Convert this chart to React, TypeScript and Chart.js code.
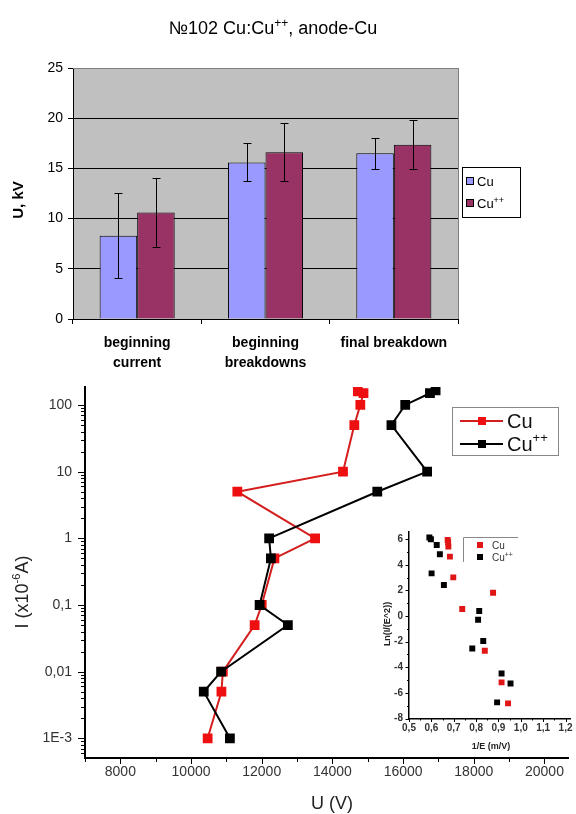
import React, { useEffect, useRef } from "react";
import { Chart, registerables } from "chart.js";

Chart.register(...registerables);

const FONT = '"Liberation Sans", Arial, sans-serif';

// ---------- Top bar chart data ----------
const barCategories = [["beginning", "current"], ["beginning", "breakdowns"], "final breakdown"];
const cuMeans = [8.3, 15.6, 16.5];
const cuErrors = [4.25, 1.9, 1.55];
const cuppMeans = [10.6, 16.6, 17.35];
const cuppErrors = [3.4, 2.9, 2.45];
const barYTicks = [0, 5, 10, 15, 20, 25];

// ---------- Bottom line chart data ----------
const cuVoltage = [10470, 10860, 10900, 11800, 12000, 12360, 13510, 11310, 14300, 14620, 14790, 14880, 14720];
const cuCurrent = [0.001, 0.005, 0.01, 0.05, 0.1, 0.5, 1, 5, 10, 50, 100, 150, 160];
const cuppVoltage = [11100, 10360, 10850, 12740, 11940, 12260, 12210, 15270, 16680, 15670, 16060, 16760, 16920];
const cuppCurrent = [0.001, 0.005, 0.01, 0.05, 0.1, 0.5, 1, 5, 10, 50, 100, 150, 165];
const voltageTicks = [8000, 10000, 12000, 14000, 16000, 18000, 20000];
const currentTicks = [0.001, 0.01, 0.1, 1, 10, 100];
const currentTickLabels = ["1E-3", "0,01", "0,1", "1", "10", "100"];

// ---------- Inset scatter data ----------
const cuInvE = [0.673, 0.675, 0.676, 0.683, 0.698, 0.876, 0.738, 0.839, 0.914, 0.943];
const cuLn = [5.94, 5.76, 5.42, 4.64, 3.02, 1.82, 0.55, -2.71, -5.18, -6.82];
const cuppInvE = [0.591, 0.598, 0.624, 0.638, 0.601, 0.656, 0.814, 0.809, 0.832, 0.783, 0.914, 0.954, 0.894];
const cuppLn = [6.13, 6.0, 5.55, 4.82, 3.33, 2.42, 0.39, -0.29, -1.95, -2.53, -4.48, -5.26, -6.74];
const invETicks = [0.5, 0.6, 0.7, 0.8, 0.9, 1.0, 1.1, 1.2];
const lnTicks = [-8, -6, -4, -2, 0, 2, 4, 6];

type Part = { t: string; size: number; dy?: number; weight?: string };

function drawRich(ctx: CanvasRenderingContext2D, parts: Part[], x: number, y: number, align: "left" | "center", color: string) {
  ctx.save();
  ctx.fillStyle = color;
  ctx.textBaseline = "alphabetic";
  ctx.textAlign = "left";
  const widths = parts.map((p) => {
    ctx.font = `${p.weight || "normal"} ${p.size}px ${FONT}`;
    return ctx.measureText(p.t).width;
  });
  const total = widths.reduce((a, b) => a + b, 0);
  let cx = align === "center" ? x - total / 2 : x;
  parts.forEach((p, i) => {
    ctx.font = `${p.weight || "normal"} ${p.size}px ${FONT}`;
    ctx.fillText(p.t, cx, y + (p.dy || 0));
    cx += widths[i];
  });
  ctx.restore();
}

function line(ctx: CanvasRenderingContext2D, x1: number, y1: number, x2: number, y2: number) {
  ctx.beginPath();
  ctx.moveTo(x1, y1);
  ctx.lineTo(x2, y2);
  ctx.stroke();
}

function noPad(s: any) {
  s.paddingTop = 0;
  s.paddingBottom = 0;
  s.paddingLeft = 0;
  s.paddingRight = 0;
}

const barPlugin = {
  id: "barDecor",
  beforeDraw(chart: any) {
    const { ctx, chartArea: a } = chart;
    ctx.save();
    ctx.fillStyle = "#C0C0C0";
    ctx.fillRect(a.left, a.top, a.right - a.left, a.bottom - a.top);
    ctx.restore();
  },
  afterDraw(chart: any) {
    const { ctx, chartArea: a } = chart;
    const yS = chart.scales.y;
    const errs = [cuErrors, cuppErrors];
    const means = [cuMeans, cuppMeans];
    ctx.save();
    ctx.strokeStyle = "#000";
    ctx.lineWidth = 1;
    [0, 1].forEach((di) => {
      const meta = chart.getDatasetMeta(di);
      meta.data.forEach((bar: any, j: number) => {
        const x = Math.round(bar.x) + 0.5;
        const yt = Math.round(yS.getPixelForValue(means[di][j] + errs[di][j])) + 0.5;
        const yb = Math.round(yS.getPixelForValue(means[di][j] - errs[di][j])) + 0.5;
        line(ctx, x, yt, x, yb);
        line(ctx, x - 4, yt, x + 4, yt);
        line(ctx, x - 4, yb, x + 4, yb);
      });
    });
    ctx.strokeStyle = "#808080";
    line(ctx, a.right + 0.5, a.top, a.right + 0.5, a.bottom);
    line(ctx, a.left, a.top + 0.5, a.right, a.top + 0.5);
    ctx.restore();

    drawRich(ctx, [
      { t: "№102 Cu:Cu", size: 18 },
      { t: "++", size: 12, dy: -7 },
      { t: ", anode-Cu", size: 18 },
    ], 273, 34, "center", "#000");

    ctx.save();
    ctx.translate(19, 200);
    ctx.rotate(-Math.PI / 2);
    ctx.font = `bold 15px ${FONT}`;
    ctx.fillStyle = "#000";
    ctx.textAlign = "center";
    ctx.textBaseline = "middle";
    ctx.fillText("U, kV", 0, 0);
    ctx.restore();

    ctx.save();
    ctx.fillStyle = "#fff";
    ctx.fillRect(462, 167, 58, 50);
    ctx.strokeStyle = "#000";
    ctx.lineWidth = 1;
    ctx.strokeRect(462.5, 167.5, 58, 50);
    const rows = [
      { c: "#9999FF", y: 181, parts: [{ t: "Cu", size: 13 }] },
      { c: "#993366", y: 203, parts: [{ t: "Cu", size: 13 }, { t: "++", size: 9, dy: -5 }] },
    ];
    rows.forEach((r) => {
      ctx.fillStyle = r.c;
      ctx.fillRect(466, r.y - 4, 8, 8);
      ctx.strokeStyle = "#000";
      ctx.strokeRect(466.5, r.y - 3.5, 7, 7);
      drawRich(ctx, r.parts as Part[], 477, r.y + 5, "left", "#000");
    });
    ctx.restore();
  },
};

const mainPlugin = {
  id: "mainDecor",
  afterDraw(chart: any) {
    const { ctx, chartArea: a } = chart;
    const x = chart.scales.x;
    const y = chart.scales.y;
    ctx.save();
    ctx.strokeStyle = "#000";
    ctx.lineWidth = 1;
    for (let d = -4; d <= 2; d++) {
      for (let m = 1; m <= 9; m++) {
        const v = m * Math.pow(10, d);
        if (v < y.min || v > y.max) continue;
        const py = Math.round(y.getPixelForValue(v)) + 0.5;
        const len = m === 1 ? 7 : 4;
        line(ctx, a.left - len, py, a.left, py);
      }
    }
    for (let v = 7000; v <= x.max; v += 1000) {
      const px = Math.round(x.getPixelForValue(v)) + 0.5;
      const len = v % 2000 === 0 ? 6 : 4;
      line(ctx, px, a.bottom, px, a.bottom + len);
    }
    ctx.restore();

    ctx.save();
    ctx.translate(22, 214);
    ctx.rotate(-Math.PI / 2);
    drawRich(ctx, [
      { t: "I (x10", size: 18 },
      { t: "-6", size: 11, dy: -8 },
      { t: "A)", size: 18 },
    ], 0, 6, "center", "#222");
    ctx.restore();
    drawRich(ctx, [{ t: "U (V)", size: 18 }], 332, 431, "center", "#222");

    ctx.save();
    ctx.strokeStyle = "#888";
    ctx.lineWidth = 1;
    ctx.strokeRect(452.5, 29.5, 106, 48);
    const rows = [
      { c: "#D41E1E", p: "#EE1010", y: 43, parts: [{ t: "Cu", size: 20 }] },
      { c: "#000", p: "#000", y: 66, parts: [{ t: "Cu", size: 20 }, { t: "++", size: 13, dy: -9 }] },
    ];
    rows.forEach((r) => {
      ctx.strokeStyle = r.c;
      ctx.lineWidth = 2;
      line(ctx, 460, r.y, 503, r.y);
      ctx.fillStyle = r.p;
      ctx.fillRect(478, r.y - 4, 8, 8);
      drawRich(ctx, r.parts as Part[], 507, r.y + 7, "left", "#111");
    });
    ctx.restore();
  },
};

const insetPlugin = {
  id: "insetDecor",
  afterDraw(chart: any) {
    const { ctx, chartArea: a } = chart;
    const x = chart.scales.x;
    const y = chart.scales.y;
    ctx.save();
    ctx.strokeStyle = "#000";
    ctx.lineWidth = 1;
    for (let v = -8; v <= 6; v += 1) {
      const py = Math.round(y.getPixelForValue(v)) + 0.5;
      const len = v % 2 === 0 ? 3.5 : 2;
      line(ctx, a.left - len, py, a.left, py);
    }
    for (let k = 10; k <= 24; k++) {
      const v = k * 0.05;
      if (v > x.max + 1e-9) continue;
      const px = Math.round(x.getPixelForValue(v)) + 0.5;
      const len = k % 2 === 0 ? 3.5 : 2;
      line(ctx, px, a.bottom, px, a.bottom + len);
    }
    ctx.restore();

    ctx.save();
    ctx.translate(28, 102);
    ctx.rotate(-Math.PI / 2);
    ctx.font = `bold 9px ${FONT}`;
    ctx.fillStyle = "#222";
    ctx.textAlign = "center";
    ctx.textBaseline = "middle";
    ctx.fillText("Ln(I/(E^2))", 0, 0);
    ctx.restore();
    ctx.save();
    ctx.font = `bold 9px ${FONT}`;
    ctx.fillStyle = "#222";
    ctx.textAlign = "center";
    ctx.textBaseline = "middle";
    ctx.fillText("1/E (m/V)", 131, 225);
    ctx.restore();

    ctx.save();
    ctx.strokeStyle = "#888";
    ctx.lineWidth = 1;
    line(ctx, 103.5, 15.5, 158, 15.5);
    line(ctx, 103.5, 15.5, 103.5, 40);
    ctx.fillStyle = "#E01515";
    ctx.fillRect(117, 20, 6, 6);
    ctx.fillStyle = "#000";
    ctx.fillRect(117, 32, 6, 6);
    drawRich(ctx, [{ t: "Cu", size: 10 }], 132, 27, "left", "#333");
    drawRich(ctx, [{ t: "Cu", size: 10 }, { t: "++", size: 7, dy: -4 }], 132, 39, "left", "#333");
    ctx.restore();
  },
};

export default function App() {
  const aRef = useRef<HTMLCanvasElement>(null);
  const bRef = useRef<HTMLCanvasElement>(null);
  const cRef = useRef<HTMLCanvasElement>(null);

  useEffect(() => {
    const charts: Chart[] = [];

    charts.push(
      new Chart(aRef.current!, {
        type: "bar",
        data: {
          labels: barCategories as any,
          datasets: [
            { label: "Cu", data: cuMeans, backgroundColor: "#9999FF", borderColor: "#000", borderWidth: 1, categoryPercentage: 0.585, barPercentage: 1 },
            { label: "Cu++", data: cuppMeans, backgroundColor: "#993366", borderColor: "#000", borderWidth: 1, categoryPercentage: 0.585, barPercentage: 1 },
          ],
        },
        options: {
          animation: false,
          responsive: false,
          devicePixelRatio: 1,
          layout: { padding: { top: 68, left: 0, right: 118, bottom: 0 } },
          plugins: { legend: { display: false }, tooltip: { enabled: false } },
          scales: {
            x: {
              grid: { display: true, drawOnChartArea: false, drawTicks: true, tickLength: 5, color: "#000", offset: true },
              border: { display: true, color: "#000", width: 1 },
              ticks: { font: { family: FONT, size: 14, weight: "bold", lineHeight: 1.43 }, color: "#000", padding: 9, maxRotation: 0, autoSkip: false },
              afterFit: (s: any) => { s.height = 59; noPad(s); },
            },
            y: {
              min: 0,
              max: 25,
              afterBuildTicks: (s: any) => { s.ticks = barYTicks.map((v) => ({ value: v })); },
              grid: { color: (c: any) => (c.tick && c.tick.value === 25 ? "#808080" : "#000"), tickColor: "#000", drawTicks: true, tickLength: 5 },
              border: { display: true, color: "#000", width: 1 },
              ticks: { font: { family: FONT, size: 14 }, color: "#000", padding: 5 },
              afterFit: (s: any) => { s.width = 73; noPad(s); },
            },
          },
        } as any,
        plugins: [barPlugin],
      })
    );

    charts.push(
      new Chart(bRef.current!, {
        type: "line",
        data: {
          datasets: [
            {
              label: "Cu",
              data: cuVoltage.map((u, i) => ({ x: u, y: cuCurrent[i] })),
              borderColor: "#D41E1E",
              backgroundColor: "#EE1010",
              pointBackgroundColor: "#EE1010",
              pointBorderColor: "#EE1010",
              pointStyle: "rect",
              pointRadius: 5.5,
              borderWidth: 2,
              tension: 0,
              order: 2,
            },
            {
              label: "Cu++",
              data: cuppVoltage.map((u, i) => ({ x: u, y: cuppCurrent[i] })),
              borderColor: "#000",
              backgroundColor: "#000",
              pointBackgroundColor: "#000",
              pointBorderColor: "#000",
              pointStyle: "rect",
              pointRadius: 5.5,
              borderWidth: 2,
              tension: 0,
              order: 1,
            },
          ],
        },
        options: {
          animation: false,
          responsive: false,
          devicePixelRatio: 1,
          layout: { padding: { top: 9, left: 0, right: 0, bottom: 0 } },
          plugins: { legend: { display: false }, tooltip: { enabled: false } },
          scales: {
            x: {
              type: "linear",
              min: 7000,
              max: 20680,
              afterBuildTicks: (s: any) => { s.ticks = voltageTicks.map((v) => ({ value: v })); },
              grid: { display: false, drawTicks: false },
              border: { display: true, color: "#000", width: 2 },
              ticks: { font: { family: FONT, size: 14 }, color: "#333", padding: 6, callback: (v: any) => String(v) },
              afterFit: (s: any) => { s.height = 56; noPad(s); },
            },
            y: {
              type: "logarithmic",
              min: 5.07e-4,
              max: 186,
              afterBuildTicks: (s: any) => { s.ticks = currentTicks.map((v) => ({ value: v })); },
              grid: { display: false, drawTicks: false },
              border: { display: true, color: "#000", width: 2 },
              ticks: { font: { family: FONT, size: 14 }, color: "#333", padding: 13, callback: (_v: any, i: number) => currentTickLabels[i] },
              afterFit: (s: any) => { s.width = 85; noPad(s); },
            },
          },
        } as any,
        plugins: [mainPlugin],
      })
    );

    charts.push(
      new Chart(cRef.current!, {
        type: "scatter",
        data: {
          datasets: [
            {
              label: "Cu",
              data: cuInvE.map((v, i) => ({ x: v, y: cuLn[i] })),
              pointStyle: "rect",
              pointRadius: 4.2,
              backgroundColor: "#E01515",
              borderColor: "#E01515",
              borderWidth: 0,
              order: 2,
            },
            {
              label: "Cu++",
              data: cuppInvE.map((v, i) => ({ x: v, y: cuppLn[i] })),
              pointStyle: "rect",
              pointRadius: 4.2,
              backgroundColor: "#000",
              borderColor: "#000",
              borderWidth: 0,
              order: 1,
            },
          ],
        },
        options: {
          animation: false,
          responsive: false,
          devicePixelRatio: 1,
          layout: { padding: { top: 9.5, left: 0, right: 6, bottom: 0 } },
          plugins: { legend: { display: false }, tooltip: { enabled: false } },
          scales: {
            x: {
              type: "linear",
              min: 0.5,
              max: 1.22,
              afterBuildTicks: (s: any) => { s.ticks = invETicks.map((v) => ({ value: v })); },
              grid: { display: false, drawTicks: false },
              border: { display: true, color: "#000", width: 1.5 },
              ticks: { font: { family: FONT, size: 10, weight: "bold" }, color: "#333", padding: 3.5, callback: (v: any) => Number(v).toFixed(1).replace(".", ",") },
              afterFit: (s: any) => { s.height = 35.5; noPad(s); },
            },
            y: {
              min: -8,
              max: 6.6,
              afterBuildTicks: (s: any) => { s.ticks = lnTicks.map((v) => ({ value: v })); },
              grid: { display: false, drawTicks: false },
              border: { display: true, color: "#000", width: 1.5 },
              ticks: { font: { family: FONT, size: 10, weight: "bold" }, color: "#333", padding: 6, callback: (v: any) => String(v) },
              afterFit: (s: any) => { s.width = 49; noPad(s); },
            },
          },
        } as any,
        plugins: [insetPlugin],
      })
    );

    return () => charts.forEach((c) => c.destroy());
  }, []);

  return (
    <div style={{ position: "absolute", left: 0, top: 0, width: 576, height: 814, background: "#fff", overflow: "hidden" }}>
      <canvas ref={aRef} width={576} height={378} style={{ position: "absolute", left: 0, top: 0, width: 576, height: 378 }} />
      <canvas ref={bRef} width={576} height={436} style={{ position: "absolute", left: 0, top: 378, width: 576, height: 436 }} />
      <canvas ref={cRef} width={216} height={232} style={{ position: "absolute", left: 360, top: 522, width: 216, height: 232 }} />
    </div>
  );
}
